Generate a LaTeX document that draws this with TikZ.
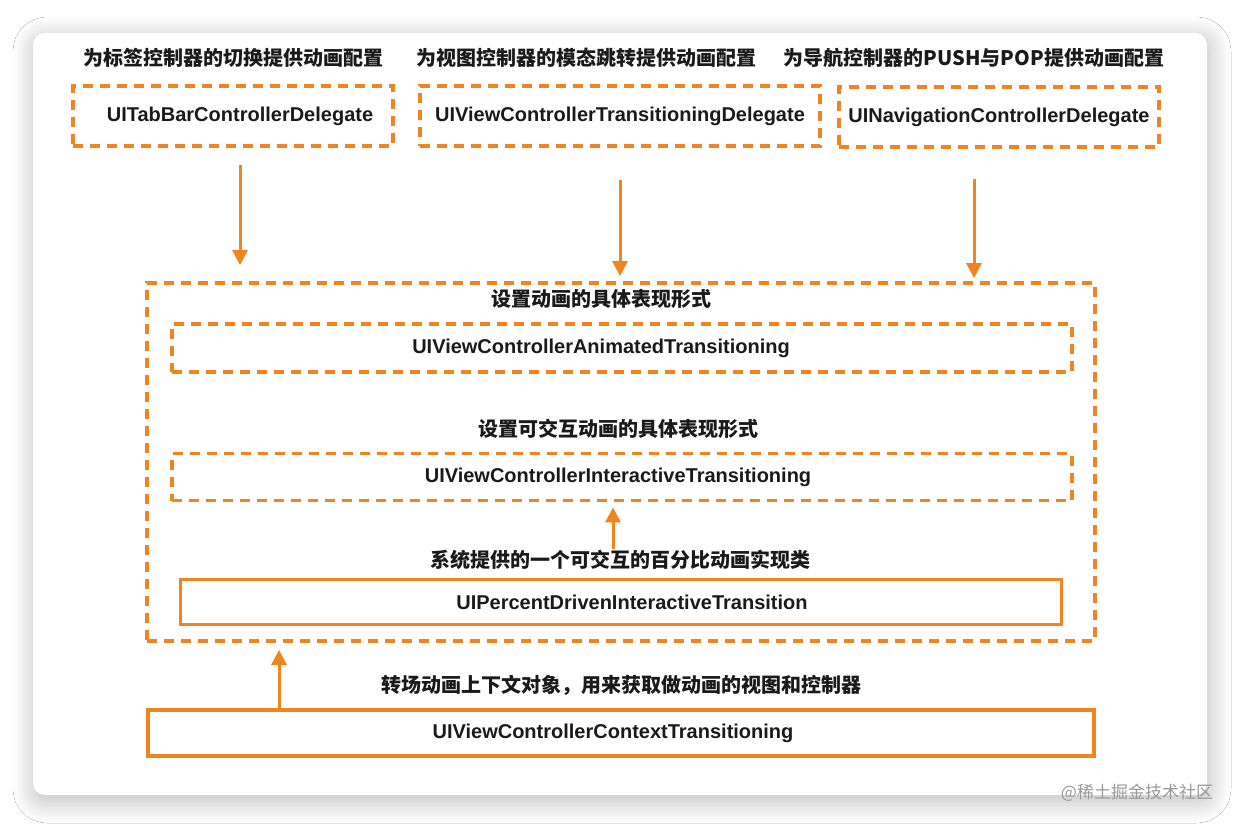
\documentclass[tikz,border=0pt]{standalone}
\usepackage{fontspec}
\setmainfont{Liberation Sans}
\newfontfamily\cjk{Noto Sans CJK SC}
\usetikzlibrary{arrows.meta,shadows.blur}
\definecolor{org}{HTML}{F0841F}
\definecolor{txt}{HTML}{1A1A1A}
\tikzset{
  dbox/.style={draw=org, line width=3.8pt, dash pattern=on 10pt off 7pt, minimum width=#1, inner sep=0pt, text=txt, font=\fontsize{20}{23}\selectfont\bfseries},
  sbox/.style={draw=org, line width=3.5pt, minimum width=#1, inner sep=0pt, text=txt, font=\fontsize{20}{23}\selectfont\bfseries},
  captxt/.style={text=txt, inner sep=0pt, font=\cjk\fontsize{20}{23}\selectfont\bfseries},
  arr/.style={draw=org, line width=3pt, -{Triangle[width=15pt,length=15pt]}},
}
\begin{document}
\begin{tikzpicture}[x=1pt,y=-1pt]
\useasboundingbox (0,0) rectangle (1240,827);
\fill[white] (0,0) rectangle (1240,827);
\path[fill=white, rounded corners=12pt, blur shadow={shadow xshift=2pt, shadow yshift=-6pt, shadow blur radius=22pt, shadow blur steps=20, shadow opacity=28}] (33,33) rectangle (1207,795);
% top captions
\node[captxt] (l1) at (233,58) {为标签控制器的切换提供动画配置};
\node[captxt] (l2) at (586,58) {为视图控制器的模态跳转提供动画配置};
\node[captxt] (l3) at (974,58) {为导航控制器的PUSH与POP提供动画配置};
% top boxes
\node[dbox=320pt, minimum height=60pt] (b1) at (233,116) {\hspace*{14pt}UITabBarControllerDelegate};
\node[dbox=400pt, minimum height=60pt] (b2) at (620,116) {UIViewControllerTransitioningDelegate};
\node[dbox=320pt, minimum height=60pt] (b3) at (999,117) {UINavigationControllerDelegate};
% big container
\node[dbox=948pt, minimum height=358pt] (big) at (621,462) {};
\node[captxt] (l4) at (601,299) {设置动画的具体表现形式};
\node[dbox=900pt, minimum height=48pt] (at) at (622,348) {\hspace*{-42pt}UIViewControllerAnimatedTransitioning};
\node[captxt] (l5) at (618,429) {设置可交互动画的具体表现形式};
\node[dbox=900pt, minimum height=47pt] (it) at (622,477) {\hspace*{-8pt}UIViewControllerInteractiveTransitioning};
\node[captxt] (l6) at (620,560) {系统提供的一个可交互的百分比动画实现类};
\node[sbox=881pt, minimum height=45pt] (pd) at (621,602) {\hspace*{22pt}UIPercentDrivenInteractiveTransition};
% bottom
\node[captxt] (l7) at (621,685) {转场动画上下文对象，用来获取做动画的视图和控制器};
\node[sbox=946pt, minimum height=46pt] (ct) at (621,733) {\hspace*{-16pt}UIViewControllerContextTransitioning};
% arrows
\draw[arr, shorten <=17pt, shorten >=16pt] ([xshift=7pt]b1.south) -- ([xshift=7pt]b1.south |- big.north);
\draw[arr, shorten <=32pt, shorten >=5pt] (b2.south) -- (b2.south |- big.north);
\draw[arr, shorten <=30pt, shorten >=3pt] ([xshift=-25pt]b3.south) -- ([xshift=-25pt]b3.south |- big.north);
\draw[arr, shorten <=1pt, shorten >=5pt] ([xshift=-7pt]l6.north) -- ([xshift=-7pt]l6.north |- it.south);
\coordinate (c5) at (279,710);
\draw[arr, shorten >=7pt] (c5) -- (c5 |- big.south);
% watermark
\node[text=black!40, inner sep=0pt, font=\cjk\fontsize{17}{20}\selectfont] (wm) at (1137,793) {@稀土掘金技术社区};
\end{tikzpicture}
\end{document}
